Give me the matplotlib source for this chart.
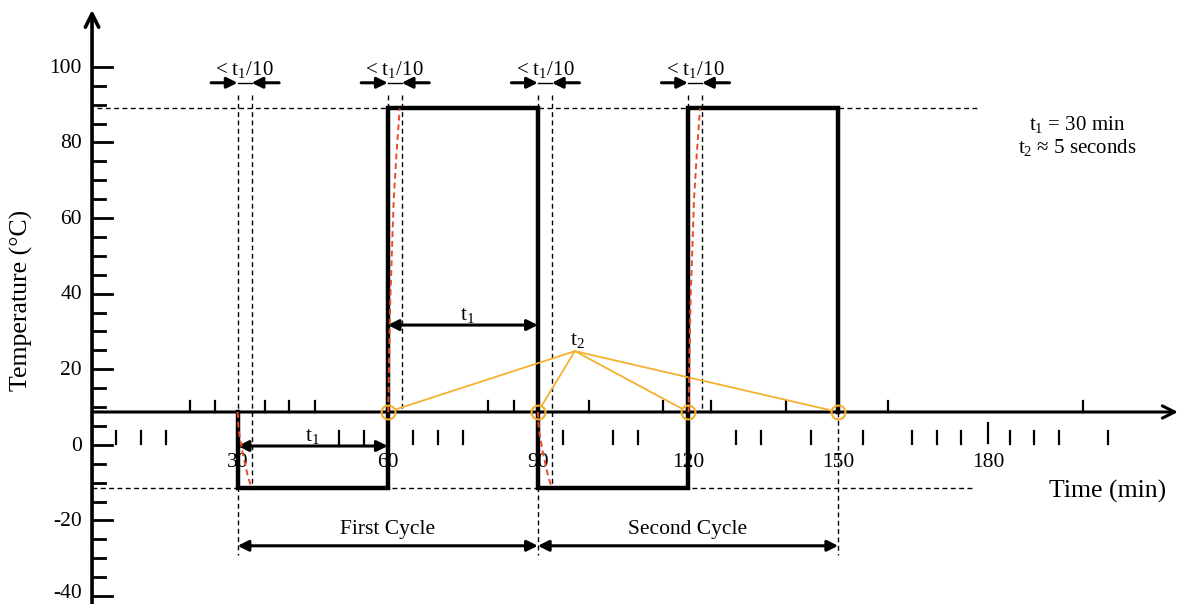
import matplotlib.pyplot as plt
from matplotlib import rcParams

# 字体：类似 Times 的衬线体
rcParams['font.family'] = ['Liberation Serif', 'DejaVu Serif']
rcParams['mathtext.fontset'] = 'custom'
rcParams['mathtext.rm'] = 'Liberation Serif'
rcParams['mathtext.it'] = 'Liberation Serif:italic'

# 温度循环数据 (min, °C)
hot_level = 89
cold_level = -11.5
base_level = 8.7
gap = 2.8  # t1/10 区间宽度

wave_t = [30, 30, 60, 60, 90, 90, 120, 120, 150, 150]
wave_temp = [base_level, cold_level, cold_level, hot_level, hot_level,
             cold_level, cold_level, hot_level, hot_level, base_level]

fall_edges = [30, 90]
rise_edges = [60, 120]
switch_points = [60, 90, 120, 150]

# 实际温度（红色虚线）相对于跳变时刻
rise_dt = [0.1, 0.3, 0.5, 1.2, 1.8, 2.4]
rise_temp = [base_level, 25, 38, 65, 78, hot_level]
fall_dt = [0, 0.2, 1.0, 2.0, 2.8]
fall_temp = [base_level, 4, -2, -8, cold_level]

# 刻度
y_ticks = list(range(-40, 101, 5))
x_labels = [30, 60, 90, 120, 150, 180]
top_ticks = [20.5, 25.5, 35.5, 40.3, 45.5, 80.1, 85.2, 100.2, 115, 124.6, 139.6, 160, 199]
bottom_ticks = [5.7, 10.7, 15.7, 50.3, 55.3, 65.1, 70.1, 75.1, 95, 105, 110, 129.6,
                134.6, 144.6, 155, 164.8, 169.8, 174.6, 184.4, 189.2, 194.2, 204]

orange = '#f4b12f'
red = '#ec4a28'
dash = (0, (3.5, 2.5))

fig = plt.figure(figsize=(11.81, 6.04), dpi=100)
ax = fig.add_axes([0, 0, 1, 1])
ax.set_xlim(-17.47, 218.5)
ax.set_ylim(-42.1, 117.7)
ax.axis('off')

yx = 0.92  # 纵轴所在的时间位置

# 坐标轴
ax.annotate('', xy=(yx, 115.1), xytext=(yx, -42.1),
            arrowprops=dict(arrowstyle='->', lw=2.6, mutation_scale=24, shrinkA=0, shrinkB=0))
ax.annotate('', xy=(217.9, base_level), xytext=(yx, base_level),
            arrowprops=dict(arrowstyle='->', lw=2.2, mutation_scale=22, shrinkA=0, shrinkB=0))

for v in y_ticks:
    length = 4 if v % 20 == 0 else 2.6
    ax.plot([yx, yx + length], [v, v], color='black', lw=2)
    if v % 20 == 0:
        ty = v - 0.3 if v > -40 else v + 0.6
        ax.text(-1.1, ty, str(v), ha='right', va='center', fontsize=15.5)

for t in top_ticks:
    ax.plot([t, t], [base_level, 11.6], color='black', lw=1.6)
for t in bottom_ticks:
    ax.plot([t, t], [0.2, 3.7], color='black', lw=1.6)
ax.plot([180, 180], [0.5, 5.8], color='black', lw=1.6)
for t in x_labels:
    ax.text(t, -4.6, str(t), ha='center', va='center', fontsize=15.5)

ax.text(203.9, -12.4, 'Time (min)', ha='center', va='center', fontsize=18.5)
ax.text(-13.1, 38.3, 'Temperature (°C)', ha='center', va='center', rotation=90, fontsize=18.5)

# 参考虚线
ax.plot([1.9, 178.4], [hot_level, hot_level], color='black', lw=1, ls=dash)
ax.plot([yx, 177], [cold_level, cold_level], color='black', lw=1, ls=dash)
for t in fall_edges:
    ax.plot([t, t], [92.6, -29.1], color='black', lw=1, ls=dash)
    ax.plot([t + gap, t + gap], [92.6, cold_level], color='black', lw=1, ls=dash)
for t in rise_edges:
    ax.plot([t, t], [92.6, hot_level], color='black', lw=1, ls=dash)
    ax.plot([t + gap, t + gap], [92.6, base_level], color='black', lw=1, ls=dash)
ax.plot([150, 150], [base_level, -29.1], color='black', lw=1, ls=dash)

# 温度波形
ax.plot(wave_t, wave_temp, color='black', lw=3.2, solid_joinstyle='miter', zorder=3)

for t in rise_edges:
    ax.plot([t + d for d in rise_dt], rise_temp, color=red, lw=1.4, ls=(0, (3, 2)), zorder=4)
for t in fall_edges:
    ax.plot([t + d for d in fall_dt], fall_temp, color=red, lw=1.4, ls=(0, (3, 2)), zorder=4)

# < t1/10 标注
for t in fall_edges + rise_edges:
    y = 95.8
    ax.annotate('', xy=(t, y), xytext=(t - 5.3, y),
                arrowprops=dict(arrowstyle='-|>', color='black', lw=2.2, mutation_scale=16,
                                shrinkA=0, shrinkB=0))
    ax.annotate('', xy=(t + gap, y), xytext=(t + gap + 5.5, y),
                arrowprops=dict(arrowstyle='-|>', color='black', lw=2.2, mutation_scale=16,
                                shrinkA=0, shrinkB=0))
    ax.plot([t, t + gap], [y, y], color='black', lw=1)
    ax.text(t + gap / 2, 99.4, r'< $\mathrm{t_1}$/10', ha='center', va='center', fontsize=15)

# t1 区间
ax.annotate('', xy=(90, 31.7), xytext=(60, 31.7),
            arrowprops=dict(arrowstyle='<|-|>', color='black', lw=2.2, mutation_scale=16,
                            shrinkA=0, shrinkB=0))
ax.text(76, 34.2, r'$\mathrm{t_1}$', ha='center', va='center', fontsize=15.5)
ax.annotate('', xy=(60, -0.3), xytext=(30, -0.3),
            arrowprops=dict(arrowstyle='<|-|>', color='black', lw=2.2, mutation_scale=16,
                            shrinkA=0, shrinkB=0))
ax.text(45, 2.1, r'$\mathrm{t_1}$', ha='center', va='center', fontsize=15.5)

# 循环区间
for a, b, name in [(30, 90, 'First Cycle'), (90, 150, 'Second Cycle')]:
    ax.annotate('', xy=(b, -26.7), xytext=(a, -26.7),
                arrowprops=dict(arrowstyle='<|-|>', color='black', lw=2.2, mutation_scale=16,
                                shrinkA=0, shrinkB=0))
    ax.text((a + b) / 2, -22.4, name, ha='center', va='center', fontsize=15.5)

# t2 切换点
apex = (97.4, 24.8)
for t in switch_points:
    ax.annotate('', xy=(t, base_level), xytext=apex,
                arrowprops=dict(arrowstyle='-', color=orange, lw=1.3, shrinkA=0, shrinkB=5))
    ax.plot(t, base_level, 'o', ms=10, mfc='none', mec=orange, mew=1.5, zorder=5)
ax.text(97.8, 27.6, r'$\mathrm{t_2}$', ha='center', va='center', fontsize=15.5)

ax.text(197.8, 84.7, r'$\mathrm{t_1}$ = 30 min', ha='center', va='center', fontsize=15)
ax.text(197.8, 78.6, r'$\mathrm{t_2}$ ≈ 5 seconds', ha='center', va='center', fontsize=15)

fig.savefig('out.png', dpi=100)
plt.close()
